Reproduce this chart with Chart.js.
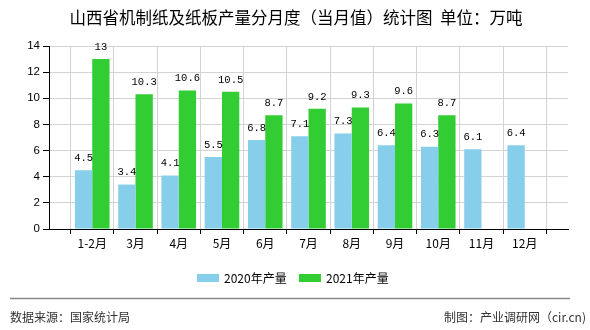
<!DOCTYPE html>
<html>
<head>
<meta charset="utf-8">
<script src="https://cdn.jsdelivr.net/npm/chart.js@4"></script>
<style>
  html, body { margin: 0; padding: 0; background: #fff; }
  canvas { display: block; }
</style>
</head>
<body>
<canvas id="paperChart" width="590" height="330"></canvas>
<script>
const months = ['1-2月', '3月', '4月', '5月', '6月', '7月', '8月', '9月', '10月', '11月', '12月'];
const output2020 = [4.5, 3.4, 4.1, 5.5, 6.8, 7.1, 7.3, 6.4, 6.3, 6.1, 6.4];
const output2021 = [13, 10.3, 10.6, 10.5, 8.7, 9.2, 9.3, 9.6, 8.7, null, null];
const yTicks = [0, 2, 4, 6, 8, 10, 12, 14];

const CJK = '"Noto Sans CJK SC", "Noto Sans", sans-serif';

// empty slot at each end so the months sit on the inner ticks
const labels = [''].concat(months, ['']);
const pad = arr => [null].concat(arr, [null]);

// value labels above each bar
const valueLabels = {
  id: 'valueLabels',
  afterDatasetsDraw(chart) {
    const ctx = chart.ctx;
    ctx.save();
    ctx.font = '10.5px "Liberation Mono", monospace';
    ctx.fillStyle = '#000';
    ctx.textAlign = 'center';
    ctx.textBaseline = 'middle';
    chart.data.datasets.forEach((ds, di) => {
      chart.getDatasetMeta(di).data.forEach((bar, i) => {
        const v = ds.data[i];
        if (v == null) return;
        ctx.fillText(String(v), bar.x, bar.y - 12);
      });
    });
    ctx.restore();
  }
};

// title, legend and footer
const decorations = {
  id: 'decorations',
  afterDraw(chart) {
    const ctx = chart.ctx;
    ctx.save();
    ctx.fillStyle = '#000';
    ctx.textBaseline = 'middle';
    ctx.textAlign = 'center';
    ctx.font = '16.5px ' + CJK;
    ctx.fillText('山西省机制纸及纸板产量分月度（当月值）统计图  单位：万吨', 296, 18);

    // legend
    ctx.font = '12px ' + CJK;
    ctx.textAlign = 'left';
    const items = [[197, 224], [299, 326]];
    chart.data.datasets.forEach((ds, i) => {
      ctx.fillStyle = ds.backgroundColor;
      ctx.fillRect(items[i][0], 274, 22, 8);
      ctx.fillStyle = '#000';
      ctx.fillText(ds.label, items[i][1], 278);
    });

    // footer
    ctx.strokeStyle = '#888';
    ctx.lineWidth = 1.5;
    ctx.beginPath();
    ctx.moveTo(10, 298.5);
    ctx.lineTo(570, 298.5);
    ctx.stroke();
    ctx.fillStyle = '#333';
    ctx.font = '12px ' + CJK;
    ctx.fillText('数据来源：国家统计局', 10, 317);
    ctx.textAlign = 'right';
    ctx.fillText('制图：产业调研网（cir.cn)', 586, 317);
    ctx.restore();
  }
};

new Chart(document.getElementById('paperChart'), {
  type: 'bar',
  data: {
    labels: labels,
    datasets: [{
      label: '2020年产量',
      data: pad(output2020),
      backgroundColor: '#87CEEB'
    }, {
      label: '2021年产量',
      data: pad(output2021),
      backgroundColor: '#32CD32'
    }]
  },
  options: {
    responsive: false,
    animation: false,
    devicePixelRatio: 1,
    layout: { padding: { top: 46, right: 22, left: 0, bottom: 0 } },
    categoryPercentage: 0.8,
    barPercentage: 1,
    plugins: {
      legend: { display: false },
      title: { display: false },
      tooltip: { enabled: false }
    },
    scales: {
      x: {
        offset: false,
        afterFit(scale) { scale.height = 101; },
        grid: { color: '#d3d3d3', tickColor: '#000', tickLength: 5, drawTicks: true },
        border: { color: '#000', width: 1 },
        ticks: {
          autoSkip: false,
          maxRotation: 0,
          padding: 2,
          color: '#000',
          font: { family: CJK, size: 12 }
        }
      },
      y: {
        min: yTicks[0],
        max: yTicks[yTicks.length - 1],
        afterFit(scale) { scale.width = 49; },
        afterBuildTicks(scale) { scale.ticks = yTicks.map(v => ({ value: v })); },
        grid: { color: '#d3d3d3', tickColor: '#000', tickLength: 6 },
        border: { color: '#000', width: 1 },
        ticks: {
          padding: 3,
          color: '#000',
          font: { family: '"Liberation Sans", sans-serif', size: 11.5 }
        }
      }
    }
  },
  plugins: [valueLabels, decorations]
});
</script>
</body>
</html>
